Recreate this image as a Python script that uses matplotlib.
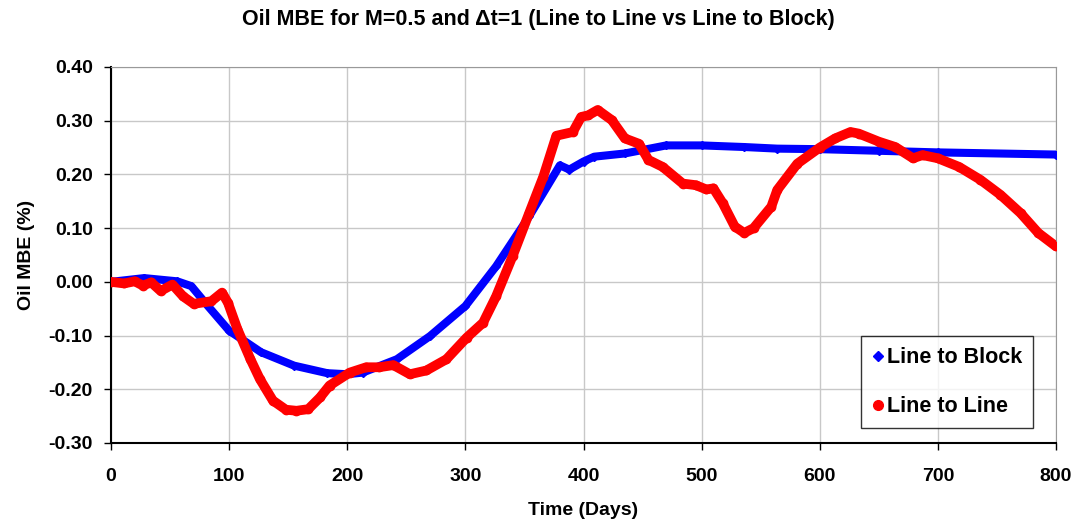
import matplotlib.pyplot as plt
from matplotlib.lines import Line2D

plt.rcParams['font.family'] = ['Liberation Sans', 'DejaVu Sans']
plt.rcParams['font.weight'] = 'bold'

# Line to Block
block_days = [0, 28, 56, 68, 82, 100, 127, 155, 183, 200, 213, 242, 270, 300,
              326, 354, 380, 388, 400, 409, 435, 470, 500, 536, 564, 600, 650,
              700, 800]
block_mbe = [0.0, 0.007, 0.001, -0.008, -0.045, -0.091, -0.131, -0.156, -0.17,
             -0.172, -0.169, -0.144, -0.101, -0.045, 0.029, 0.122, 0.217,
             0.209, 0.224, 0.233, 0.239, 0.254, 0.254, 0.251, 0.248, 0.247,
             0.244, 0.241, 0.237]

# Line to Line
line_days = [0, 11, 20, 27, 34, 42, 52, 61, 70, 85, 94, 99, 107, 118, 126,
             137, 148, 157, 167, 177, 185, 202, 216, 227, 239, 253, 267, 284,
             301, 315, 326, 340, 354, 366, 377, 391, 398, 404, 412, 424, 435,
             447, 455, 467, 484, 495, 504, 510, 518, 528, 536, 544, 559, 564,
             581, 600, 613, 626, 633, 650, 664, 679, 687, 700, 718, 736, 753,
             770, 785, 800]
line_mbe = [0.0, -0.003, 0.001, -0.007, -0.001, -0.017, -0.005, -0.027, -0.041,
            -0.036, -0.02, -0.039, -0.088, -0.144, -0.181, -0.221, -0.238,
            -0.24, -0.237, -0.215, -0.193, -0.169, -0.159, -0.159, -0.155,
            -0.172, -0.165, -0.144, -0.104, -0.076, -0.027, 0.048, 0.128,
            0.196, 0.272, 0.279, 0.307, 0.31, 0.32, 0.301, 0.267, 0.257, 0.227,
            0.214, 0.183, 0.18, 0.172, 0.174, 0.146, 0.103, 0.091, 0.1, 0.14,
            0.171, 0.22, 0.25, 0.267, 0.279, 0.276, 0.261, 0.251, 0.23, 0.236,
            0.23, 0.214, 0.19, 0.162, 0.128, 0.091, 0.066]

y_ticks = [-0.3, -0.2, -0.1, 0.0, 0.1, 0.2, 0.3, 0.4]
x_ticks = [0, 100, 200, 300, 400, 500, 600, 700, 800]

fig = plt.figure(figsize=(10.76, 5.27), dpi=100)
ax = fig.add_axes([0.1032, 0.1594, 0.8782, 0.7135])

ax.plot(block_days, block_mbe, color='blue', lw=5.8, marker='D', ms=4,
        solid_capstyle='round', solid_joinstyle='round', zorder=3)
ax.plot(line_days, line_mbe, color='red', lw=7, marker='o', ms=6,
        solid_capstyle='round', solid_joinstyle='round', zorder=4)

ax.set_xlim(0, 800)
ax.set_ylim(-0.3, 0.4)
ax.set_xticks(x_ticks)
ax.set_yticks(y_ticks)
ax.set_yticklabels(['%.2f' % v for v in y_ticks])
ax.tick_params(labelsize=14, length=5, direction='out', width=1)
ax.tick_params(axis='x', pad=13)
ax.tick_params(axis='y', pad=8)
ax.grid(True, color='#c8c8c8', lw=1)
ax.set_axisbelow(True)
for s in ['top', 'right']:
    ax.spines[s].set_color('#999999')
for s in ['left', 'bottom']:
    ax.spines[s].set_linewidth(1.5)

ax.set_xlabel('Time (Days)', fontsize=14, fontweight='bold', labelpad=12)
ax.set_ylabel('Oil MBE (%)', fontsize=14, fontweight='bold', labelpad=10)
fig.suptitle('Oil MBE for M=0.5 and \u0394t=1 (Line to Line vs Line to Block)',
             fontsize=15.5, fontweight='bold', y=0.982)

handles = [Line2D([], [], color='blue', marker='D', ls='none', ms=5),
           Line2D([], [], color='red', marker='o', ls='none', ms=7)]
leg = ax.legend(handles, ['Line to Block', 'Line to Line'],
                loc='lower right', bbox_to_anchor=(0.976, 0.04),
                fontsize=15.5, frameon=True, fancybox=False,
                handletextpad=0.15, handlelength=0.55, labelspacing=1.3,
                borderpad=0.5, borderaxespad=0)
leg.get_frame().set_edgecolor('black')
leg.get_frame().set_linewidth(1)

fig.savefig('out.png', dpi=100)
